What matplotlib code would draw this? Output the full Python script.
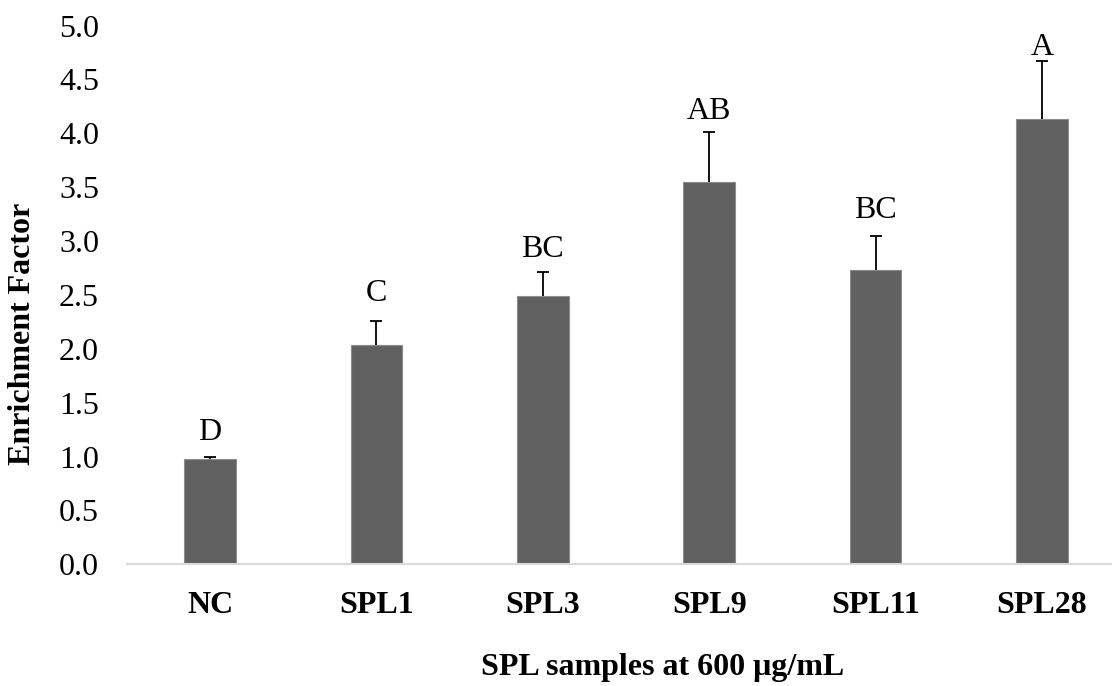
import matplotlib
matplotlib.use("Agg")
import matplotlib.pyplot as plt
import numpy as np

samples = ["NC", "SPL1", "SPL3", "SPL9", "SPL11", "SPL28"]
enrichment = [0.98, 2.04, 2.49, 3.55, 2.73, 4.13]
err_up = [0.02, 0.22, 0.22, 0.46, 0.32, 0.54]
letters = ["D", "C", "BC", "AB", "BC", "A"]
letter_y = [1.15, 2.44, 2.85, 4.13, 3.21, 4.73]  # baseline height of each letter group

plt.rcParams["font.family"] = ["Liberation Serif", "DejaVu Serif"]

W, H = 1112, 686
fig = plt.figure(figsize=(W / 100, H / 100), dpi=100)
# plot area in pixels: left 126.8, 6 slots of 166.4 px (runs past the right edge)
ax = fig.add_axes([126.8 / W, 1 - 564.3 / H, 998.4 / W, 538.7 / H])

x = np.arange(len(samples))
bars = ax.bar(x, enrichment, width=0.31, color="#606060", edgecolor="#8c8c8c", linewidth=0.8,
              yerr=[[0] * len(err_up), err_up],
              error_kw=dict(ecolor="black", elinewidth=1.3, capsize=4.5, capthick=1.3))

# only upper whiskers: hide the cap sitting on top of each bar
for cl in bars.errorbar.lines[1]:
    if np.allclose(cl.get_ydata(), enrichment):
        cl.set_visible(False)

for i in x:
    ax.text(i, letter_y[i], letters[i], ha="center", va="baseline", fontsize=23)

ax.set_xlim(-0.5, 5.5)
ax.set_ylim(0, 5.0)
ax.set_yticks([i * 0.5 for i in range(11)])
ax.set_yticklabels([f"{i * 0.5:.1f}" for i in range(11)], fontsize=23)
ax.set_xticks(x)
ax.set_xticklabels(samples, fontsize=23, fontweight="bold")
ax.tick_params(axis="both", length=0)
ax.tick_params(axis="x", pad=19)
ax.tick_params(axis="y", pad=20)

for s in ["top", "right", "left"]:
    ax.spines[s].set_visible(False)
ax.spines["bottom"].set_color("#d9d9d9")
ax.spines["bottom"].set_linewidth(1.5)

fig.text(663 / W, 1 - 668 / H, "SPL samples at 600 μg/mL", ha="center", va="center",
         fontsize=23, fontweight="bold")
fig.text(23 / W, 1 - 334 / H, "Enrichment Factor", ha="center", va="center",
         rotation=90, fontsize=23, fontweight="bold")

fig.savefig("out.png", dpi=100)
